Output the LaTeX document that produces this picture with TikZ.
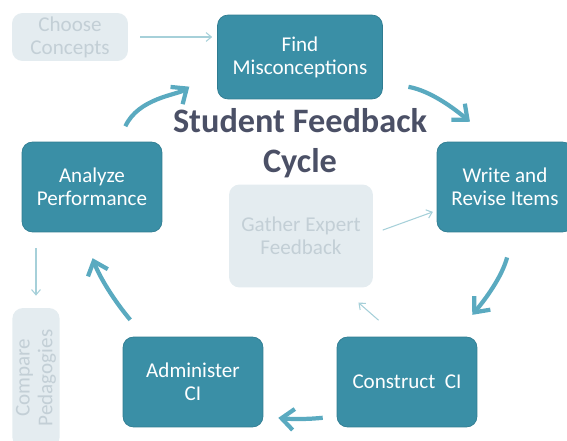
\documentclass[tikz,border=0pt]{standalone}
\usepackage{fontspec}
\setmainfont{Carlito}
\usetikzlibrary{arrows.meta,positioning,calc}

\definecolor{boxteal}{HTML}{3A8FA6}
\definecolor{boxedge}{HTML}{2F7C91}
\definecolor{arrteal}{HTML}{5AAAC0}
\definecolor{thinteal}{HTML}{A6D0D9}
\definecolor{paleblue}{HTML}{E4ECF0}
\definecolor{paletext}{HTML}{C3CFD6}
\definecolor{titlegray}{HTML}{4B5066}

\begin{document}
\begin{tikzpicture}[
    x=0.02cm, y=0.02cm,
    stage/.style={draw=boxedge, fill=boxteal, rounded corners=6pt, text=white, align=center,
        font=\fontsize{12}{13}\selectfont, inner sep=2pt},
    pale/.style={fill=paleblue, rounded corners=6pt, text=paletext, align=center,
        font=\fontsize{12}{13}\selectfont, inner sep=2pt},
    cyc/.style={draw=arrteal, line width=2.4pt, -{Straight Barb[length=7pt,width=12pt]}},
    aside/.style={draw=thinteal, line width=0.6pt, -{Straight Barb[length=3pt,width=5pt]}}
]
    \useasboundingbox (0,0) rectangle (567,440);

    % cycle boxes
    \node[stage, minimum width=3.3cm, minimum height=1.68cm] (find) at (300,383) {Find\\Misconceptions};
    \node[stage, minimum width=2.72cm, minimum height=1.8cm] (write) at (505,253) {Write and\\Revise Items};
    \node[stage, minimum width=2.8cm, minimum height=1.8cm] (construct) at (407,58) {Construct\ \ CI};
    \node[stage, minimum width=2.8cm, minimum height=1.8cm] (administer) at (193,58) {Administer\\CI};
    \node[stage, minimum width=2.8cm, minimum height=1.8cm] (analyze) at (92,253) {Analyze\\Performance};

    % side steps
    \node[pale, minimum width=2.32cm, minimum height=0.96cm] (choose) at (70,403) {Choose\\Concepts};
    \node[pale, minimum width=2.88cm, minimum height=2.06cm] (gather) at (301,204) {Gather Expert\\Feedback};
    \node[pale, rotate=90, minimum width=2.8cm, minimum height=0.94cm] (compare) at (36,62) {Compare\\Pedagogies};

    \node[text=titlegray, align=center, font=\fontsize{19.5}{23}\selectfont\bfseries] (title) at (300,297)
        {Student Feedback\\Cycle};

    % cycle arrows
    \draw[cyc, shorten <=0.34cm, shorten >=0.68cm] (analyze.60) to[out=65, in=215] (find.187);
    \draw[cyc, shorten <=0.52cm, shorten >=0.62cm] (find.-17) to[out=-10, in=140] (write.104);
    \draw[cyc, shorten <=0.52cm, shorten >=0.57cm] (write.-79) to[out=-105, in=50] (construct.44);
    \draw[cyc, shorten <=0.28cm, shorten >=0.3cm] (construct.206) to[bend left=6] (administer.-26);
    \draw[cyc, shorten <=0.44cm, shorten >=0.55cm] (administer.137) to[out=130, in=-70] (analyze.259);

    % side arrows
    \draw[aside, shorten <=0.24cm, shorten >=0.1cm] (choose.east) -- (choose.east -| find.west);
    \draw[aside, shorten <=0.32cm, shorten >=0.24cm] (compare.east |- analyze.south) -- (compare.east);
    \draw[aside, shorten <=0.2cm, shorten >=0.08cm] (gather.2) -- (write.199);
    \draw[aside, shorten <=0.5cm, shorten >=0.45cm] (construct.102) -- (gather.-52);
\end{tikzpicture}
\end{document}
